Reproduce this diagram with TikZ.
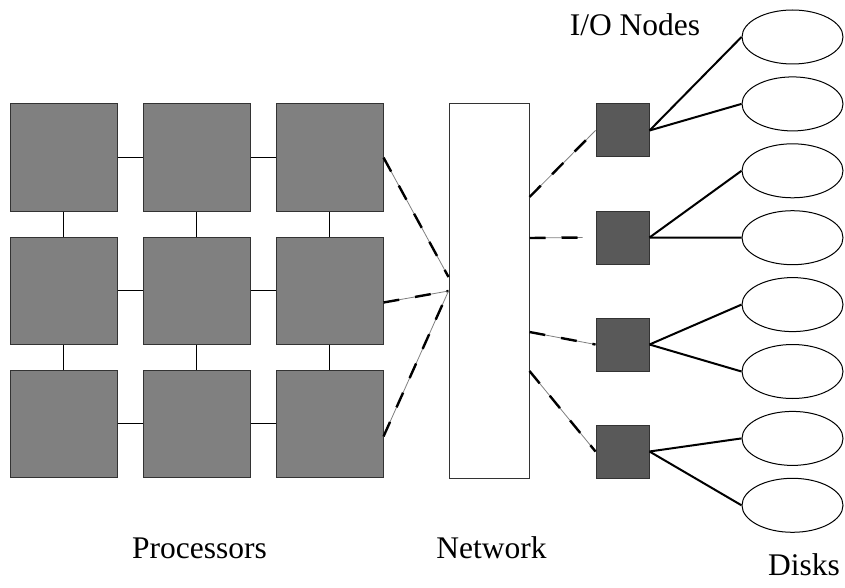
\documentclass[tikz,border=0pt]{standalone}
\usepackage{fontspec}
\setmainfont{Liberation Serif}
\usepackage{tikz}
\usetikzlibrary{shapes.geometric}
\definecolor{procgray}{gray}{0.5}
\definecolor{iogray}{gray}{0.35}
\tikzstyle{proc}=[rectangle,draw=black!80,fill=procgray,line width=1pt,minimum size=107pt,inner sep=0pt]
\tikzstyle{ionode}=[rectangle,draw=black!80,fill=iogray,line width=1pt,minimum size=53pt,inner sep=0pt]
\tikzstyle{net}=[rectangle,draw=black!80,fill=white,line width=1pt,minimum width=80pt,minimum height=374pt,inner sep=0pt]
\tikzstyle{disk}=[ellipse,draw=black,fill=white,line width=1pt,minimum width=101pt,minimum height=54pt,inner sep=0pt]
\tikzstyle{wire}=[draw=black,line width=0.9pt]
\tikzstyle{cable}=[draw=black,line width=2pt]
\tikzstyle{link}=[draw=gray,line width=0.8pt,postaction={draw=black,line width=2.4pt,dash pattern=on 16pt off 16pt}]
\tikzstyle{caption}=[anchor=base,inner sep=0pt,font=\fontsize{31.5}{36}\selectfont]

\begin{document}
\begin{tikzpicture}[x=1pt,y=-1pt]
        \useasboundingbox (0,0) rectangle (845,588);
        % processors
        \node at ( 63.5,157.5) [proc] (p11) {};
        \node at (196.5,157.5) [proc] (p12) {};
        \node at (329.5,157.5) [proc] (p13) {};
        \node at ( 63.5,290.5) [proc] (p21) {};
        \node at (196.5,290.5) [proc] (p22) {};
        \node at (329.5,290.5) [proc] (p23) {};
        \node at ( 63.5,423.5) [proc] (p31) {};
        \node at (196.5,423.5) [proc] (p32) {};
        \node at (329.5,423.5) [proc] (p33) {};
        \draw [wire] (p11) -- (p12);
        \draw [wire] (p12) -- (p13);
        \draw [wire] (p21) -- (p22);
        \draw [wire] (p22) -- (p23);
        \draw [wire] (p31) -- (p32);
        \draw [wire] (p32) -- (p33);
        \draw [wire] (p11) -- (p21);
        \draw [wire] (p21) -- (p31);
        \draw [wire] (p12) -- (p22);
        \draw [wire] (p22) -- (p32);
        \draw [wire] (p13) -- (p23);
        \draw [wire] (p23) -- (p33);
        % network and i/o nodes
        \node at (489,291) [net] (net) {};
        \node at (622.5,130.5) [ionode] (io1) {};
        \node at (622.5,237.5) [ionode] (io2) {};
        \node at (622.5,344.5) [ionode] (io3) {};
        \node at (622.5,451.5) [ionode] (io4) {};
        % disks
        \node at (792.5, 37.0) [disk] (d1) {};
        \node at (792.5,103.9) [disk] (d2) {};
        \node at (792.5,170.8) [disk] (d3) {};
        \node at (792.5,237.7) [disk] (d4) {};
        \node at (792.5,304.6) [disk] (d5) {};
        \node at (792.5,371.5) [disk] (d6) {};
        \node at (792.5,438.4) [disk] (d7) {};
        \node at (792.5,505.3) [disk] (d8) {};
        \draw [link] (p13.east) -- ([yshift=14pt]net.west);
        \draw [link] ([yshift=-12pt]p23.east) -- (net.west);
        \draw [link] ([yshift=-13pt]p33.east) -- (net.west);
        \draw [link] ([yshift=94pt]net.east) -- (io1.west);
        \draw [link] ([yshift=53pt]net.east) -- ([xshift=-13pt]io2.west);
        \draw [link] ([yshift=-41pt]net.east) -- (io3.west);
        \draw [link] ([yshift=-80pt]net.east) -- (io4.west);
        \draw [cable] (io1.east) -- (d1.west);
        \draw [cable] (io1.east) -- (d2.west);
        \draw [cable] (io2.east) -- (d3.west);
        \draw [cable] (io2.east) -- (d4.west);
        \draw [cable] (io3.east) -- (d5.west);
        \draw [cable] (io3.east) -- (d6.west);
        \draw [cable] (io4.east) -- (d7.west);
        \draw [cable] (io4.east) -- (d8.west);
        % labels
        \node at (635,36) [caption] (lio) {I/O Nodes};
        \node at (199.5,558) [caption] (lproc) {Processors};
        \node at (491.5,558) [caption] (lnet) {Network};
        \node at (804,575) [caption] (ldisk) {Disks};
      \end{tikzpicture}
\end{document}
